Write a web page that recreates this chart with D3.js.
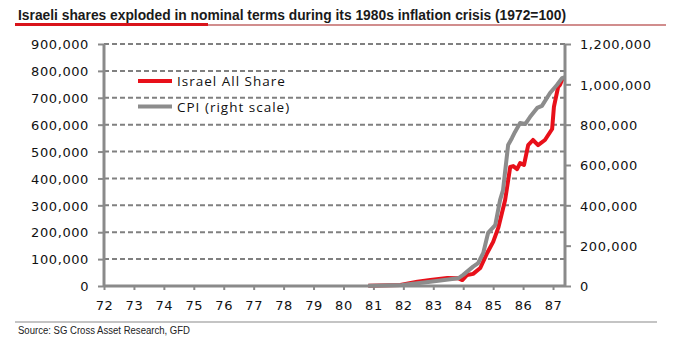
<!DOCTYPE html>
<html lang="en">
<head>
    <meta charset="UTF-8">
    <title>Israeli shares and CPI</title>
    <style>
        body { margin: 0; background: #fff; }
        text { font-family: 'DejaVu Sans', Verdana, sans-serif; fill: #111; }
        .tick-label { font-size: 13px; letter-spacing: 0.6px; }
        .legend-label { font-family: 'Open Sans', sans-serif; font-size: 13.5px; letter-spacing: 1px; }
        .grid { stroke: #808080; stroke-width: 2px; stroke-dasharray: 5,3; }
        .axis-line { stroke: #8a8a8a; stroke-width: 3px; }
        .tick-mark { stroke: #8a8a8a; stroke-width: 2px; }
    </style>
</head>
<body>

<script src="https://d3js.org/d3.v7.min.js"></script>
<script>

    const size = {'width': 684, 'height': 348};
    const plot = {'left': 104, 'right': 565, 'top': 44, 'bottom': 286};

    // Israel All Share index, left scale
    const shareYears = [80.83, 81.90, 82.47, 82.90, 83.47, 83.83, 83.97, 84.13, 84.33, 84.57, 84.80,
        85.00, 85.17, 85.40, 85.57, 85.67, 85.80, 85.90, 86.03, 86.17, 86.33, 86.50, 86.73,
        86.97, 87.03, 87.17, 87.23, 87.33];
    const shareValues = [1000, 3700, 16000, 22000, 30000, 29000, 22000, 41000, 45000, 67000, 123000,
        164000, 216000, 320000, 443000, 446000, 435000, 457000, 450000, 524000, 543000, 524000, 543000,
        584000, 666000, 740000, 748000, 774000];

    // CPI, right scale
    const cpiYears = [80.83, 81.96, 82.90, 83.83, 84.00, 84.33, 84.50, 84.67, 84.83, 85.07, 85.23,
        85.33, 85.50, 85.63, 85.73, 85.90, 86.07, 86.23, 86.47, 86.63, 86.90, 87.13, 87.30, 87.40];
    const cpiValues = [1000, 5000, 21000, 38000, 55000, 96000, 114000, 164000, 263000, 302000, 426000,
        476000, 699000, 734000, 764000, 808000, 803000, 838000, 883000, 893000, 957000, 997000, 1031000, 1036000];

    const yearTicks = d3.range(72, 88);
    const leftTicks = d3.range(0, 900001, 100000);
    const rightTicks = d3.range(0, 1200001, 200000);

    const title = 'Israeli shares exploded in nominal terms during its 1980s inflation crisis (1972=100)';
    const source = 'Source: SG Cross Asset Research, GFD';

    let svg = d3.select('body').append('svg')
        .attr('width', size.width)
        .attr('height', size.height);

    let x = d3.scaleLinear().domain([72, 87.4]).range([plot.left, plot.right]);
    let yLeft = d3.scaleLinear().domain([0, 900000]).range([plot.bottom, plot.top]);
    let yRight = d3.scaleLinear().domain([0, 1200000]).range([plot.bottom, plot.top]);
    let fmt = d3.format(',');

    // title and its underline
    svg.append('text')
        .attr('x', 18)
        .attr('y', 20)
        .attr('textLength', 548)
        .attr('lengthAdjust', 'spacingAndGlyphs')
        .style('font-family', "'Liberation Sans Narrow', 'Arial Narrow', 'Liberation Sans', sans-serif")
        .style('font-weight', 'bold')
        .style('font-size', '14.5px')
        .style('fill', '#1a1a1a')
        .text(title);

    svg.append('line')
        .attr('x1', 208).attr('x2', 666).attr('y1', 25).attr('y2', 25)
        .style('stroke', '#a31c1c').style('stroke-width', 1.2);
    svg.append('line')
        .attr('x1', 15).attr('x2', 208).attr('y1', 24.5).attr('y2', 24.5)
        .style('stroke', '#d9141b').style('stroke-width', 3);

    // dashed gridlines on the left scale
    svg.append('g').selectAll('line')
        .data(leftTicks.filter(d => d > 0))
        .enter().append('line')
        .attr('class', 'grid')
        .attr('x1', plot.left).attr('x2', plot.right)
        .attr('y1', d => yLeft(d)).attr('y2', d => yLeft(d));

    // left axis
    let leftAxis = svg.append('g').attr('transform', 'translate(' + plot.left + ',0)')
        .call(d3.axisLeft(yLeft).tickValues(leftTicks).tickFormat(fmt).tickSize(6).tickPadding(9));
    leftAxis.select('.domain').remove();
    leftAxis.selectAll('line').attr('class', 'tick-mark');
    leftAxis.selectAll('text').attr('class', 'tick-label').attr('fill', null).attr('dy', '0.36em');

    // right axis
    let rightAxis = svg.append('g').attr('transform', 'translate(' + plot.right + ',0)')
        .call(d3.axisRight(yRight).tickValues(rightTicks).tickFormat(fmt).tickSize(6).tickPadding(9));
    rightAxis.select('.domain').remove();
    rightAxis.selectAll('line').attr('class', 'tick-mark');
    rightAxis.selectAll('text').attr('class', 'tick-label').attr('fill', null).attr('dy', '0.36em');

    // bottom axis
    let bottomAxis = svg.append('g').attr('transform', 'translate(0,' + plot.bottom + ')')
        .call(d3.axisBottom(x).tickValues(yearTicks).tickFormat(d => d).tickSize(4).tickPadding(11));
    bottomAxis.select('.domain').remove();
    bottomAxis.selectAll('line').attr('class', 'tick-mark');
    bottomAxis.selectAll('text').attr('class', 'tick-label').attr('fill', null);

    // series
    let shareLine = d3.line()
        .x((d, i) => x(shareYears[i]))
        .y(d => yLeft(d));
    let cpiLine = d3.line()
        .x((d, i) => x(cpiYears[i]))
        .y(d => yRight(d));

    svg.append('path')
        .datum(shareValues)
        .attr('d', shareLine)
        .style('fill', 'none')
        .style('stroke', '#e8101a')
        .style('stroke-width', 4)
        .style('stroke-linejoin', 'round');

    svg.append('path')
        .datum(cpiValues)
        .attr('d', cpiLine)
        .style('fill', 'none')
        .style('stroke', '#8c8c8c')
        .style('stroke-width', 4)
        .style('stroke-linejoin', 'round');

    // axis lines on top
    svg.append('line').attr('class', 'axis-line')
        .attr('x1', plot.left).attr('x2', plot.left).attr('y1', plot.top).attr('y2', plot.bottom);
    svg.append('line').attr('class', 'axis-line')
        .attr('x1', plot.right).attr('x2', plot.right).attr('y1', plot.top).attr('y2', plot.bottom);
    svg.append('line').attr('class', 'axis-line')
        .attr('x1', plot.left).attr('x2', plot.right).attr('y1', plot.bottom).attr('y2', plot.bottom);

    // legend
    const legendItems = [
        {'label': 'Israel All Share', 'colour': '#e8101a'},
        {'label': 'CPI (right scale)', 'colour': '#8c8c8c'}
    ];
    let legend = svg.append('g').attr('transform', 'translate(138,81)');
    legend.selectAll('line')
        .data(legendItems)
        .enter().append('line')
        .attr('x1', 0).attr('x2', 34)
        .attr('y1', (d, i) => i * 25.5).attr('y2', (d, i) => i * 25.5)
        .style('stroke', d => d.colour)
        .style('stroke-width', 4);
    legend.selectAll('text')
        .data(legendItems)
        .enter().append('text')
        .attr('class', 'legend-label')
        .attr('x', 39)
        .attr('y', (d, i) => i * 25.5 + 5)
        .text(d => d.label);

    // source line
    svg.append('line')
        .attr('x1', 15).attr('x2', 657).attr('y1', 322).attr('y2', 322)
        .style('stroke', '#8a8a8a').style('stroke-width', 1.2);
    svg.append('text')
        .attr('x', 18)
        .attr('y', 334)
        .attr('textLength', 172)
        .attr('lengthAdjust', 'spacingAndGlyphs')
        .style('font-family', "'Liberation Sans Narrow', 'Arial Narrow', 'Liberation Sans', sans-serif")
        .style('font-size', '10px')
        .style('fill', '#222')
        .text(source);

</script>

</body>
</html>
